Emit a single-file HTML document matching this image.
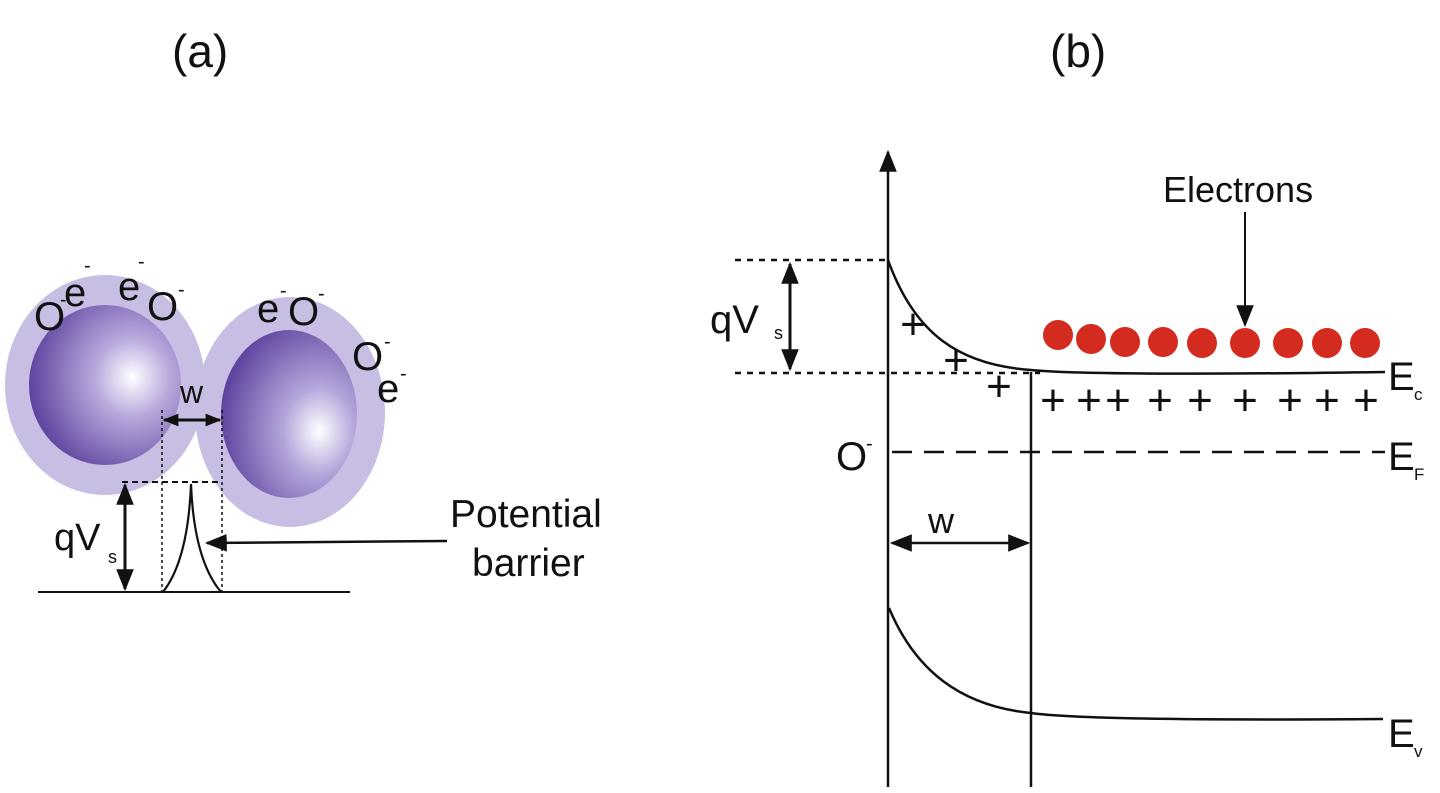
<!DOCTYPE html>
<html><head><meta charset="utf-8"><style>
html,body{margin:0;padding:0;background:#fff;}
svg{display:block;}
text{font-family:"Liberation Sans",sans-serif;fill:#111;}
</style></head><body>
<svg width="1440" height="793" viewBox="0 0 1440 793" xmlns="http://www.w3.org/2000/svg">
<defs>
<radialGradient id="g1" cx="0.68" cy="0.45" r="0.7">
<stop offset="0" stop-color="#ffffff"/><stop offset="0.35" stop-color="#b9a8dc"/><stop offset="1" stop-color="#5a3f9c"/>
</radialGradient>
<radialGradient id="g2" cx="0.72" cy="0.6" r="0.75">
<stop offset="0" stop-color="#ffffff"/><stop offset="0.35" stop-color="#b4a4da"/><stop offset="1" stop-color="#5a3f9c"/>
</radialGradient>
<marker id="ah" viewBox="0 0 10 10" refX="9" refY="5" markerWidth="16" markerHeight="16" orient="auto-start-reverse" markerUnits="userSpaceOnUse">
<path d="M0,1 L10,5 L0,9 Z" fill="#111"/></marker>
<marker id="ahb" viewBox="0 0 10 10" refX="9" refY="5" markerWidth="22" markerHeight="22" orient="auto-start-reverse" markerUnits="userSpaceOnUse">
<path d="M0,1 L10,5 L0,9 Z" fill="#111"/></marker>
</defs>
<text x="172" y="67" font-size="46">(a)</text>
<text x="1050" y="67" font-size="46">(b)</text>

<ellipse cx="105" cy="385" rx="100" ry="110" fill="#c8bde3"/>
<ellipse cx="105" cy="385" rx="76" ry="80" fill="url(#g1)"/>
<ellipse cx="290" cy="412" rx="95" ry="115" fill="#c8bde3"/>
<ellipse cx="289" cy="414" rx="68" ry="84" fill="url(#g2)"/>

<g font-size="40">
<text x="34" y="330">O</text>
<text x="64" y="306">e</text>
<text x="118" y="300">e</text>
<text x="147" y="320">O</text>
<text x="257" y="322">e</text>
<text x="288" y="325">O</text>
<text x="352" y="370">O</text>
<text x="377" y="402">e</text>
</g>
<g font-size="20">
<text x="60" y="306">-</text><text x="84" y="272">-</text><text x="138" y="268">-</text><text x="178" y="296">-</text>
<text x="280" y="297">-</text><text x="318" y="300">-</text><text x="384" y="348">-</text><text x="400" y="380">-</text>
</g>
<text x="180" y="403" font-size="32">w</text>

<line x1="164" y1="420" x2="220" y2="420" stroke="#111" stroke-width="3" marker-start="url(#ah)" marker-end="url(#ah)"/>
<line x1="162" y1="410" x2="162" y2="592" stroke="#111" stroke-width="1.5" stroke-dasharray="3,3"/>
<line x1="222" y1="410" x2="222" y2="592" stroke="#111" stroke-width="1.5" stroke-dasharray="3,3"/>
<line x1="122" y1="482" x2="222" y2="482" stroke="#111" stroke-width="2" stroke-dasharray="6,4"/>
<line x1="125" y1="485" x2="125" y2="589" stroke="#111" stroke-width="3" marker-start="url(#ahb)" marker-end="url(#ahb)"/>
<text x="54" y="550" font-size="38">qV</text><text x="108" y="563" font-size="18">s</text>
<line x1="38" y1="592" x2="350" y2="592" stroke="#111" stroke-width="2"/>
<path d="M163,592 Q188,560 191,484 Q194,560 221,592" fill="none" stroke="#111" stroke-width="2.2"/>
<line x1="447" y1="541" x2="207" y2="543" stroke="#111" stroke-width="2.5" marker-end="url(#ahb)"/>
<text x="450" y="527" font-size="39">Potential</text>
<text x="472" y="576" font-size="39">barrier</text>

<line x1="888" y1="787" x2="888" y2="152" stroke="#111" stroke-width="2.5" marker-end="url(#ahb)"/>
<line x1="1031" y1="372" x2="1031" y2="787" stroke="#111" stroke-width="2.5"/>
<line x1="735" y1="260" x2="888" y2="260" stroke="#111" stroke-width="2.5" stroke-dasharray="6,6"/>
<line x1="735" y1="373" x2="1040" y2="373" stroke="#111" stroke-width="2.5" stroke-dasharray="6,6"/>
<line x1="790" y1="264" x2="790" y2="369" stroke="#111" stroke-width="3" marker-start="url(#ahb)" marker-end="url(#ahb)"/>
<text x="710" y="333" font-size="40">qV</text><text x="774" y="339" font-size="18">s</text>
<path d="M888,260 C915,335 960,365 1031,370 C1080,375 1250,374 1385,372" fill="none" stroke="#111" stroke-width="2.5"/>
<line x1="892" y1="452" x2="1385" y2="452" stroke="#111" stroke-width="2.5" stroke-dasharray="20,12"/>
<path d="M889,608 C915,670 960,706 1031,713 C1080,720 1250,720 1383,719" fill="none" stroke="#111" stroke-width="2.5"/>
<line x1="892" y1="543" x2="1028" y2="543" stroke="#111" stroke-width="2.5" marker-start="url(#ahb)" marker-end="url(#ahb)"/>
<text x="928" y="533" font-size="36">w</text>
<text x="1388" y="390" font-size="40">E</text><text x="1414" y="400" font-size="17">c</text>
<text x="1388" y="470" font-size="40">E</text><text x="1414" y="480" font-size="17">F</text>
<text x="1388" y="747" font-size="40">E</text><text x="1414" y="757" font-size="17">v</text>
<text x="836" y="470" font-size="40">O</text><text x="866" y="450" font-size="20">-</text>
<text x="1163" y="202" font-size="36">Electrons</text>
<line x1="1245" y1="212" x2="1245" y2="325" stroke="#111" stroke-width="2" marker-end="url(#ahb)"/>
<g fill="#d42b20">
<circle cx="1058" cy="335" r="15"/><circle cx="1091" cy="339" r="15"/><circle cx="1125" cy="342" r="15"/>
<circle cx="1163" cy="342" r="15"/><circle cx="1202" cy="343" r="15"/><circle cx="1245" cy="343" r="15"/>
<circle cx="1288" cy="343" r="15"/><circle cx="1327" cy="343" r="15"/><circle cx="1365" cy="343" r="15"/>
</g>
<g font-size="44" text-anchor="middle">
<text x="913" y="339">+</text><text x="956" y="375">+</text><text x="999" y="401">+</text>
<text x="1053" y="415">+</text><text x="1089" y="415">+</text><text x="1118" y="415">+</text><text x="1160" y="415">+</text>
<text x="1200" y="415">+</text><text x="1245" y="415">+</text><text x="1290" y="415">+</text><text x="1327" y="415">+</text><text x="1366" y="415">+</text>
</g>
</svg>
</body></html>
